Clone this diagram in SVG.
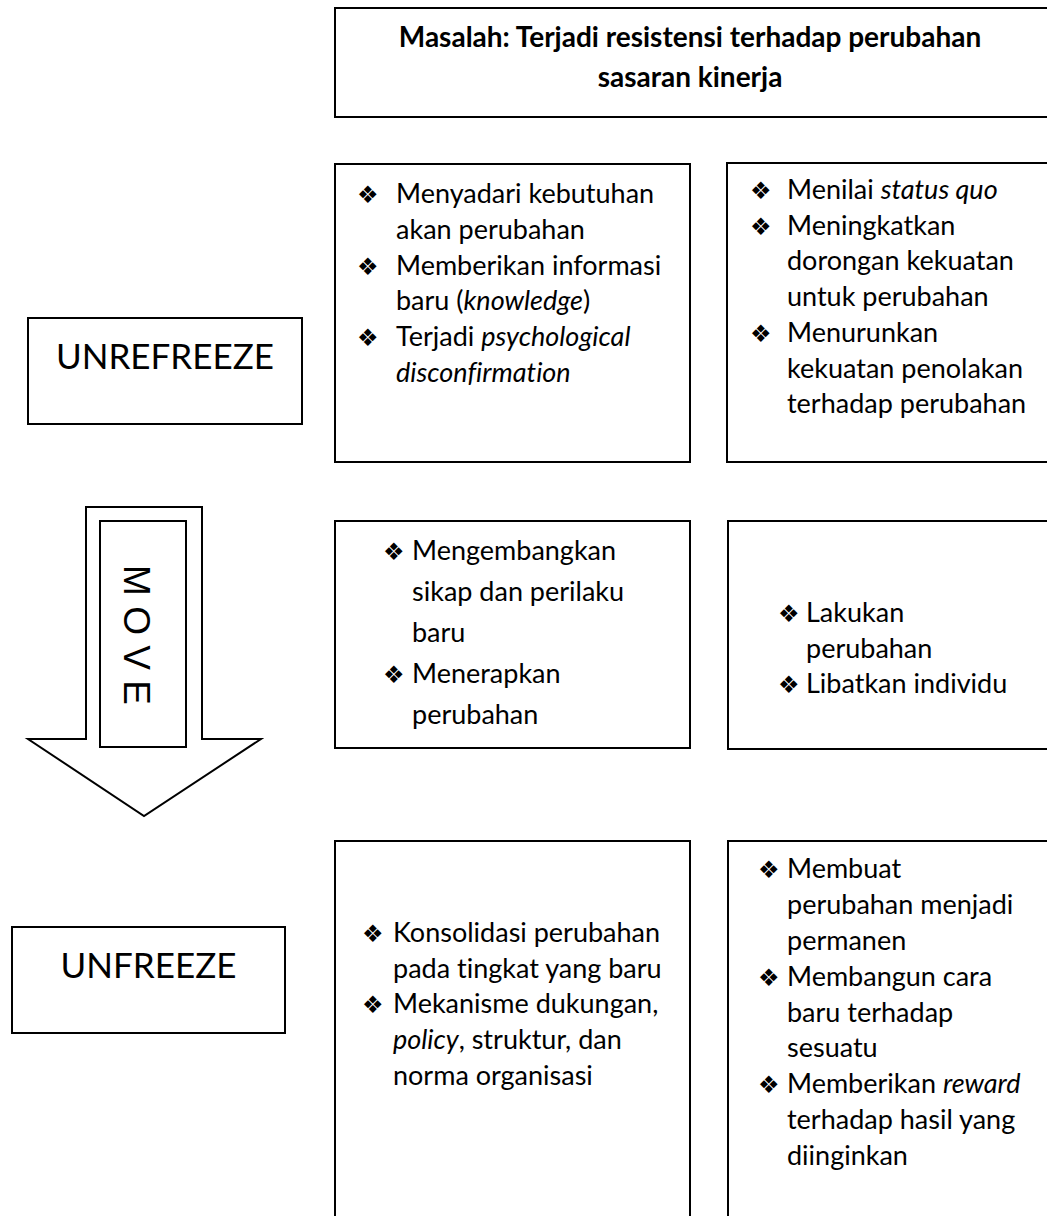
<svg xmlns="http://www.w3.org/2000/svg" width="1047" height="1216" viewBox="0 0 1047 1216">
<style>
.box{fill:#fff;stroke:#000;stroke-width:2}
.t{font-family:Lato,"Liberation Sans",sans-serif;font-size:27px;fill:#000;font-variant-ligatures:none}
.h{font-family:Lato,"Liberation Sans",sans-serif;font-size:28px;font-weight:bold;fill:#000;text-anchor:middle;font-variant-ligatures:none}
.big{font-family:Lato,"Liberation Sans",sans-serif;font-size:35px;fill:#000;text-anchor:middle}
.mv{font-family:"Liberation Sans",Arial,sans-serif;font-size:37px;fill:#000;text-anchor:middle}
.bl{font-family:"DejaVu Sans",sans-serif;font-size:24px;fill:#000}
.i{font-style:italic}
</style>
<g id="problem">
<rect class="box" x="335" y="8" width="730" height="109"/>
<text class="h" x="690" y="47">Masalah: Terjadi resistensi terhadap perubahan</text>
<text class="h" x="690" y="87">sasaran kinerja</text>
</g>
<g id="unrefreeze">
<rect class="box" x="28" y="318" width="274" height="106"/>
<text class="big" x="165" y="369">UNREFREEZE</text>
</g>
<g id="unrefreeze-a">
<rect class="box" x="335" y="164" width="355" height="298"/>
<text class="bl" x="357" y="203">❖</text><text class="t" x="396" y="203">Menyadari kebutuhan</text>
<text class="t" x="396" y="239">akan perubahan</text>
<text class="bl" x="357" y="275">❖</text><text class="t" x="396" y="275">Memberikan informasi</text>
<text class="t" x="396" y="310">baru (<tspan class="i">knowledge</tspan>)</text>
<text class="bl" x="357" y="346">❖</text><text class="t" x="396" y="346">Terjadi <tspan class="i">psychological</tspan></text>
<text class="t i" x="396" y="382">disconfirmation</text>
</g>
<g id="unrefreeze-b">
<rect class="box" x="727" y="163" width="340" height="299"/>
<text class="bl" x="750" y="199">❖</text><text class="t" x="787" y="199">Menilai <tspan class="i">status quo</tspan></text>
<text class="bl" x="750" y="235">❖</text><text class="t" x="787" y="235">Meningkatkan</text>
<text class="t" x="787" y="270">dorongan kekuatan</text>
<text class="t" x="787" y="306">untuk perubahan</text>
<text class="bl" x="750" y="342">❖</text><text class="t" x="787" y="342">Menurunkan</text>
<text class="t" x="787" y="378">kekuatan penolakan</text>
<text class="t" x="787" y="413">terhadap perubahan</text>
</g>
<g id="connectors">
<g id="move">
<path class="box" d="M86,507 H202 V739 H261 L144,816 L28,739 H86 Z"/>
<rect class="box" x="100" y="521" width="86" height="226"/>
<text class="mv" transform="translate(124,635) rotate(90)" x="0" y="0">M O V E</text>
</g>
</g>
<g id="move-a">
<rect class="box" x="335" y="521" width="355" height="227"/>
<text class="bl" x="383" y="560">❖</text><text class="t" x="412" y="560">Mengembangkan</text>
<text class="t" x="412" y="601">sikap dan perilaku</text>
<text class="t" x="412" y="642">baru</text>
<text class="bl" x="383" y="683">❖</text><text class="t" x="412" y="683">Menerapkan</text>
<text class="t" x="412" y="724">perubahan</text>
</g>
<g id="move-b">
<rect class="box" x="728" y="521" width="340" height="228"/>
<text class="bl" x="778" y="622">❖</text><text class="t" x="806" y="622">Lakukan</text>
<text class="t" x="806" y="658">perubahan</text>
<text class="bl" x="778" y="693">❖</text><text class="t" x="806" y="693">Libatkan individu</text>
</g>
<g id="unfreeze">
<rect class="box" x="12" y="927" width="273" height="106"/>
<text class="big" x="148.5" y="978">UNFREEZE</text>
</g>
<g id="unfreeze-a">
<rect class="box" x="335" y="841" width="355" height="390"/>
<text class="bl" x="362" y="942">❖</text><text class="t" x="393" y="942">Konsolidasi perubahan</text>
<text class="t" x="393" y="978">pada tingkat yang baru</text>
<text class="bl" x="362" y="1013">❖</text><text class="t" x="393" y="1013">Mekanisme dukungan,</text>
<text class="t" x="393" y="1049"><tspan class="i">policy</tspan>, struktur, dan</text>
<text class="t" x="393" y="1085">norma organisasi</text>
</g>
<g id="unfreeze-b">
<rect class="box" x="728" y="841" width="340" height="390"/>
<text class="bl" x="758" y="878">❖</text><text class="t" x="787" y="878">Membuat</text>
<text class="t" x="787" y="914">perubahan menjadi</text>
<text class="t" x="787" y="950">permanen</text>
<text class="bl" x="758" y="986">❖</text><text class="t" x="787" y="986">Membangun cara</text>
<text class="t" x="787" y="1022">baru terhadap</text>
<text class="t" x="787" y="1057">sesuatu</text>
<text class="bl" x="758" y="1093">❖</text><text class="t" x="787" y="1093">Memberikan <tspan class="i">reward</tspan></text>
<text class="t" x="787" y="1129">terhadap hasil yang</text>
<text class="t" x="787" y="1165">diinginkan</text>
</g>
</svg>
